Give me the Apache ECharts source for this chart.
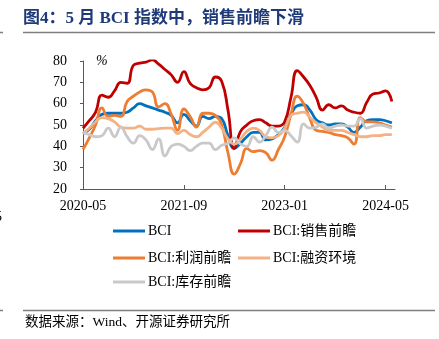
<!DOCTYPE html>
<html>
<head>
<meta charset="utf-8">
<script src="https://cdn.jsdelivr.net/npm/echarts@6/dist/echarts.min.js"></script>
<style>
html,body{margin:0;padding:0;background:#fff;}
#chart{width:439px;height:339px;}
</style>
</head>
<body>
<div id="chart"></div>
<script>
// Months (data points plotted at month end)
const months = [];
for (let y = 2020, m = 4; y < 2024 || (y === 2024 && m <= 5); ) {
  months.push(y + '-' + String(m).padStart(2, '0'));
  m++; if (m > 12) { m = 1; y++; }
}
const tickLabels = ['2020-05', '2021-09', '2023-01', '2024-05'];
const seriesNames = ['BCI', 'BCI:销售前瞻', 'BCI:利润前瞻', 'BCI:融资环境', 'BCI:库存前瞻'];

const bci = [46,48,52,55,55.5,55.5,55.5,56,58,60, 59,58,57,56,54.5,51,55,52,49.5,54, 53,54,53,45,39,41.5,44.5,46.5,46.5,43, 43.5,45.5,49,55,59,59.5,57,52.5,51,50, 50.5,50.5,49,46.5,49,52,52.5,52.5,52,51];
const sales = [48.5,52,56,64,63,66,70,69.5,78,79, 79.5,80.5,78.5,76,73.5,70,75,69.5,67.5,66.5, 67.5,72.5,70.5,57,39,47,50,52,52.5,51, 49.5,49.5,51.5,63,75.5,72.5,68.5,63,57,59.5, 58,59,57,56,55.5,60.5,64.5,65,66,61];
const profit = [38.5,44,50,58,54,54.5,54,61,63.5,65.5, 66.5,65.5,58.5,60,55,47.5,57.5,54,49,55.5, 55.5,54.5,50,37,27,32,39,37.5,38,37, 33.5,38.5,44.5,55,63.5,60,53,47.5,47,46.5, 45.5,45,44,41,53.5,51.5,51.5,51,50,49];
const finance = [46,48.5,51.5,53.5,53,51.5,49,48.5,48.5,49.5, 48,48,48.3,48.5,48.5,46,47.5,45.5,44.5,46.5, 49,51.3,48.5,43.5,41,43.5,47,48.5,47.5,44.5, 44,45,48.5,54.5,55.5,56,53.5,51,49,47.5, 47.5,47.5,46.5,45.5,44.5,44.5,45,45,45.5,45.5];
const inventory = [46.5,45.5,44.5,45,48.5,44.5,49,44.5,41.5,45, 43,38.5,43.5,35.5,40,41,40,38,40,41.5, 41.5,38.5,40.5,41.5,44,41,40,44.5,42,45, 49,46.5,47.5,45,42,50.5,48.5,49,50.5,48.5, 49.5,50,49.5,49.5,53,48.5,49.5,50,49.5,48.5];

const colors = ['#0070C0', '#C00000', '#ED7D31', '#F4B183', '#C9C9C9'];
const allData = [bci, sales, profit, finance, inventory];

// position on x: months elapsed since 2020-05-01 (month-end of month m ≈ start of m+1)
function monthPos(s, end) {
  const [y, m] = s.split('-').map(Number);
  return (y - 2020) * 12 + (m - 5) + (end ? 1 : 0);
}
const tickVals = tickLabels.map(s => monthPos(s, false));
const serif = "'Liberation Serif','Times New Roman','Noto Sans CJK SC',serif";
const axisColor = '#595959';

const chart = echarts.init(document.getElementById('chart'), null, {renderer: 'canvas'});

const legendPos = [[108, 219], [233, 219], [108, 246], [233, 246], [108, 270]];

const option = {
  animation: false,
  backgroundColor: '#fff',
  grid: {left: 83, top: 61, right: 44, bottom: 150},
  xAxis: {
    type: 'value',
    min: monthPos(months[0], true),
    max: monthPos(months[months.length - 1], true) + 0.5,
    axisLine: {show: true, lineStyle: {color: axisColor, width: 1}},
    axisTick: {show: true, inside: true, length: 4, customValues: tickVals, lineStyle: {color: axisColor}},
    axisLabel: {
      customValues: tickVals,
      formatter: function (v) {
        const k = tickVals.indexOf(Math.round(v));
        return k >= 0 ? tickLabels[k] : '';
      },
      fontFamily: serif, fontSize: 14, color: '#000', margin: 10
    },
    splitLine: {show: false}
  },
  yAxis: {
    type: 'value', min: 20, max: 80, interval: 10,
    axisLine: {show: true, lineStyle: {color: axisColor, width: 1}},
    axisTick: {show: true, length: 3, lineStyle: {color: axisColor}},
    axisLabel: {fontFamily: serif, fontSize: 14, color: '#000', margin: 16},
    splitLine: {show: false}
  },
  legend: legendPos.map((p, i) => ({
    data: [seriesNames[i]],
    left: p[0], top: p[1],
    icon: 'rect', itemWidth: 32, itemHeight: 3, itemGap: 0,
    textStyle: {fontFamily: serif, fontSize: 14, color: '#000', padding: [0, 0, 0, -2]}
  })),
  series: seriesNames.map((n, i) => ({
    name: n, type: 'line', smooth: true, symbol: 'none',
    data: months.map((m, j) => [monthPos(m, true), allData[i][j]]),
    lineStyle: {color: colors[i], width: 2.8},
    itemStyle: {color: colors[i]}
  })),
  graphic: [
    {type: 'text', left: 23, top: 10, style: {text: '图4：5 月 BCI 指数中，销售前瞻下滑', font: "bold 17px 'Liberation Serif','Noto Sans CJK SC',serif", fill: '#1F3A78'}},
    {type: 'line', shape: {x1: 23, y1: 32.5, x2: 435, y2: 32.5}, style: {stroke: '#7F7F7F', lineWidth: 1.5}},
    {type: 'line', shape: {x1: 0, y1: 32.5, x2: 3, y2: 32.5}, style: {stroke: '#7F7F7F', lineWidth: 1.5}},
    {type: 'text', left: 96, top: 54, style: {text: '%', font: "italic 14px 'Liberation Serif',serif", fill: '#000'}},
    {type: 'text', left: -5, top: 210, style: {text: '5', font: "14px 'Liberation Serif',serif", fill: '#000'}},
    {type: 'line', shape: {x1: 23, y1: 310.5, x2: 435, y2: 310.5}, style: {stroke: '#7F7F7F', lineWidth: 1.5}},
    {type: 'line', shape: {x1: 0, y1: 310.5, x2: 3, y2: 310.5}, style: {stroke: '#7F7F7F', lineWidth: 1.5}},
    {type: 'text', left: 25, top: 316, style: {text: '数据来源：Wind、开源证券研究所', font: "13.5px 'Liberation Serif','Noto Sans CJK SC',serif", fill: '#000'}}
  ]
};
chart.setOption(option);
</script>
</body>
</html>
